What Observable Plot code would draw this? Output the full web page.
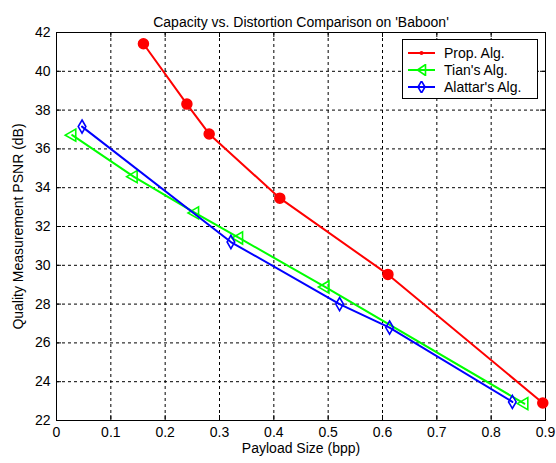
<!DOCTYPE html>
<html>
<head>
<meta charset="utf-8">
<script src="https://cdn.jsdelivr.net/npm/d3@7"></script>
<script src="https://cdn.jsdelivr.net/npm/@observablehq/plot@0.6"></script>
<style>
  html, body { margin: 0; padding: 0; background: #fff; }
  #wrap { position: relative; width: 556px; height: 463px; font-family: "Liberation Sans", Arial, sans-serif; }
  #legend { position: absolute; left: 402px; top: 39px; width: 136px; height: 60px; border: 1px solid #000; background: #fff; box-sizing: border-box; }
  .row { position: absolute; left: 0; height: 18px; display: flex; align-items: center; font-size: 14px; color: #000; }
  .row svg { margin-left: 5px; margin-right: 8px; }
</style>
</head>
<body>
<div id="wrap"></div>
<script>
// ---- data ----
const title = "Capacity vs. Distortion Comparison on 'Baboon'";
const xLabel = "Payload Size (bpp)";
const yLabel = "Quality Measurement PSNR (dB)";
const seriesNames = ["Prop. Alg.", "Tian's Alg.", "Alattar's Alg."];
const seriesColors = ["#ff0000", "#00ff00", "#0000ff"];

const propX = [0.160, 0.240, 0.281, 0.411, 0.610, 0.895];
const propY = [41.42, 38.31, 36.77, 33.46, 29.53, 22.90];

const tianX = [0.029, 0.142, 0.255, 0.336, 0.495, 0.861];
const tianY = [36.71, 34.57, 32.70, 31.41, 28.88, 22.87];

const alatX = [0.047, 0.321, 0.521, 0.613, 0.839];
const alatY = [37.15, 31.20, 28.00, 26.79, 22.96];

const xTicks = [0, 0.1, 0.2, 0.3, 0.4, 0.5, 0.6, 0.7, 0.8, 0.9];
const yTicks = [22, 24, 26, 28, 30, 32, 34, 36, 38, 40, 42];

// ---- build ----
const toRows = (xs, ys, s) => xs.map((x, i) => ({series: s, x, y: ys[i]}));
const prop = toRows(propX, propY, seriesNames[0]);
const tian = toRows(tianX, tianY, seriesNames[1]);
const alat = toRows(alatX, alatY, seriesNames[2]);

const W = 556, H = 463;
const mT = 32, mB = 43, mL = 56, mR = 11;
const pw = W - mL - mR, ph = H - mT - mB;
const innerX = xTicks.slice(1, -1), innerY = yTicks.slice(1, -1);

const chart = Plot.plot({
  width: W, height: H,
  marginTop: mT, marginBottom: mB, marginLeft: mL, marginRight: mR,
  style: {fontFamily: "'Liberation Sans', Arial, sans-serif", fontSize: "14px", color: "#000", background: "#fff"},
  x: {domain: [0, 0.9]},
  y: {domain: [22, 42]},
  marks: [
    Plot.gridX(innerX, {stroke: "#000", strokeOpacity: 1, strokeDasharray: "3,3", strokeWidth: 1}),
    Plot.gridY(innerY, {stroke: "#000", strokeOpacity: 1, strokeDasharray: "3,3", strokeWidth: 1}),
    // inward ticks
    Plot.tickX(xTicks, {x: d => d, stroke: "#000", insetTop: ph - 5}),
    Plot.tickX(xTicks, {x: d => d, stroke: "#000", insetBottom: ph - 5}),
    Plot.tickY(yTicks, {y: d => d, stroke: "#000", insetRight: pw - 5}),
    Plot.tickY(yTicks, {y: d => d, stroke: "#000", insetLeft: pw - 5}),
    Plot.axisX(xTicks, {tickSize: 0, tickPadding: 7, tickFormat: d => String(d), label: null, fontSize: 14}),
    Plot.axisY(yTicks, {tickSize: 0, tickPadding: 6, label: null, fontSize: 14}),
    Plot.frame({stroke: "#000", strokeWidth: 1}),
    // series
    Plot.line(prop, {x: "x", y: "y", stroke: seriesColors[0], strokeWidth: 2}),
    Plot.dot(prop, {x: "x", y: "y", r: 5, fill: seriesColors[0], stroke: seriesColors[0]}),
    Plot.line(tian, {x: "x", y: "y", stroke: seriesColors[1], strokeWidth: 2}),
    Plot.dot(tian, {x: "x", y: "y", r: 4.5, symbol: "triangle", rotate: -90, fill: "none", stroke: seriesColors[1], strokeWidth: 1.6}),
    Plot.line(alat, {x: "x", y: "y", stroke: seriesColors[2], strokeWidth: 2}),
    Plot.dot(alat, {x: "x", y: "y", r: 4, symbol: "diamond", fill: "none", stroke: seriesColors[2], strokeWidth: 1.6}),
    // text
    Plot.text([title], {frameAnchor: "top", dy: -15, fontSize: 14, fill: "#000"}),
    Plot.text([xLabel], {frameAnchor: "bottom", dy: 32, fontSize: 14, fill: "#000"}),
    Plot.text([yLabel], {frameAnchor: "left", textAnchor: "middle", dx: -38, rotate: -90, fontSize: 14, fill: "#000"})
  ]
});

const wrap = document.getElementById("wrap");
wrap.appendChild(chart);

// ---- legend ----
const legend = document.createElement("div");
legend.id = "legend";
const markerSvg = [
  `<circle cx="13.5" cy="6" r="2" fill="${seriesColors[0]}"/>`,
  `<path d="M9.5,6 L17.5,0.5 L17.5,11.5 Z" fill="none" stroke="${seriesColors[1]}" stroke-width="1.6"/>`,
  `<path d="M13.5,0 L17,6 L13.5,12 L10,6 Z" fill="none" stroke="${seriesColors[2]}" stroke-width="1.6"/>`
];
seriesNames.forEach((name, i) => {
  const row = document.createElement("div");
  row.className = "row";
  row.style.top = (4 + i * 17) + "px";
  row.innerHTML = `<svg width="28" height="12"><line x1="0" y1="6" x2="27" y2="6" stroke="${seriesColors[i]}" stroke-width="2"/>${markerSvg[i]}</svg><span>${name}</span>`;
  legend.appendChild(row);
});
wrap.appendChild(legend);
</script>
</body>
</html>
